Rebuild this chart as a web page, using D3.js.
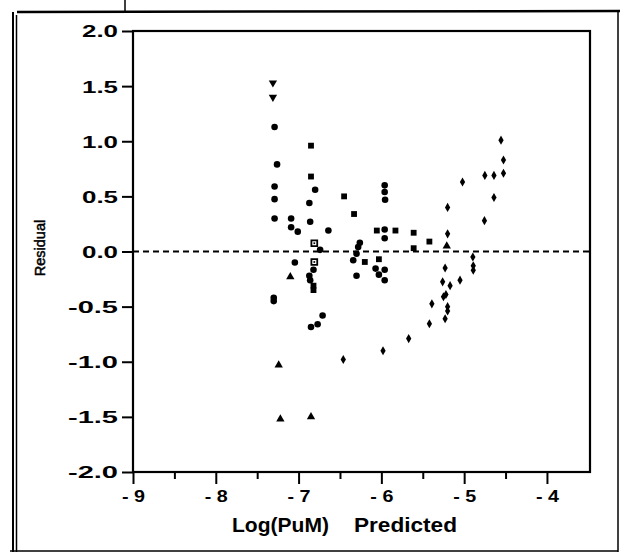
<!DOCTYPE html>
<html><head><meta charset="utf-8">
<script src="https://cdn.jsdelivr.net/npm/d3@7"></script>
<style>
html,body{margin:0;padding:0;background:#fff;}
svg{display:block;}
text{font-family:"Liberation Sans",Arial,sans-serif;fill:#000;}
</style></head>
<body>
<svg id="c" width="620" height="555"></svg>
<script>
// ---- data ----
const xTickValues = [-9, -8, -7, -6, -5, -4];
const xTickLabels = ["- 9", "- 8", "- 7", "- 6", "- 5", "- 4"];
const xMinorTicks = [-8.5, -7.5, -6.5, -5.5, -4.5];
const yTickValues = [2, 1.5, 1, 0.5, 0, -0.5, -1, -1.5, -2];
const yTickLabels = ["2.0", "1.5", "1.0", "0.5", "0.0", "-0.5", "-1.0", "-1.5", "-2.0"];
const xTitleParts = ["Log(PuM)", "Predicted"];
const yTitle = "Residual";

// [predicted, residual]
const triDownPts = [[-7.31, 1.53], [-7.31, 1.40]];
const triUpPts = [[-7.10, -0.23], [-5.21, 0.05], [-7.24, -1.03], [-7.22, -1.52], [-6.85, -1.50]];
const squarePts = [[-6.85, 0.96], [-6.85, 0.68], [-6.33, 0.34], [-6.055, 0.19], [-5.83, 0.19],
  [-5.61, 0.17], [-5.42, 0.09], [-6.82, -0.31], [-6.82, -0.35],
  [-6.20, -0.095], [-6.03, -0.07], [-6.45, 0.50], [-5.61, 0.03]];
const openSquarePts = [[-6.81, 0.075], [-6.81, -0.095]];
const circlePts = [[-7.29, 1.13], [-7.26, 0.79], [-7.29, 0.59], [-7.29, 0.475], [-7.29, 0.30],
  [-7.09, 0.30], [-7.09, 0.22], [-7.01, 0.18], [-6.87, 0.44], [-6.86, 0.27], [-6.80, 0.56],
  [-6.64, 0.19], [-5.96, 0.60], [-5.96, 0.54], [-5.955, 0.47], [-5.96, 0.20], [-5.96, 0.12],
  [-6.26, 0.08], [-6.28, 0.04], [-6.74, 0.015], [-6.30, -0.02], [-6.34, -0.08], [-7.045, -0.10],
  [-6.82, -0.165], [-6.07, -0.155], [-5.96, -0.165], [-6.87, -0.22], [-6.30, -0.22],
  [-6.03, -0.21], [-6.86, -0.26], [-5.96, -0.26], [-7.30, -0.42], [-7.30, -0.45],
  [-6.71, -0.58], [-6.77, -0.66], [-6.85, -0.685]];
const diamondPts = [[-5.20, 0.40], [-5.20, 0.16], [-4.895, -0.05], [-4.89, -0.13], [-4.89, -0.17],
  [-5.23, -0.15], [-5.26, -0.275], [-5.17, -0.31], [-5.05, -0.26], [-5.25, -0.41], [-5.22, -0.39],
  [-5.39, -0.475], [-5.20, -0.50], [-5.20, -0.54], [-5.23, -0.61], [-5.42, -0.655], [-5.67, -0.79],
  [-5.98, -0.90], [-6.46, -0.98], [-4.555, 1.01], [-4.525, 0.83], [-4.525, 0.71], [-4.75, 0.69],
  [-4.64, 0.69], [-5.02, 0.63], [-4.64, 0.49], [-4.755, 0.28]];

// ---- layout ----
const svg = d3.select("#c");
const L = 133, R = 590, T = 31, B = 472;
const x = d3.scaleLinear().domain([-9, -3.48]).range([L, R]);
const y = d3.scaleLinear().domain([-2, 2]).range([B, T]);

// outer scanned frame
const ln = (x1, y1, x2, y2, w) => svg.append("line").attr("x1", x1).attr("y1", y1).attr("x2", x2).attr("y2", y2)
  .attr("stroke", "#000").attr("stroke-width", w);
ln(13, 12, 13, 552, 2);
ln(16.5, 15, 16.5, 552, 1.5);
ln(17, 12, 620, 11, 2.5);
ln(618, 12, 618, 552, 1.5);
ln(10, 551, 618, 551, 1.5);
ln(125, 0, 125, 12, 1.5);

// plot frame
svg.append("rect").attr("x", L).attr("y", T).attr("width", R - L).attr("height", B - T)
  .attr("fill", "none").attr("stroke", "#000").attr("stroke-width", 2.2);

// axes
const fmtX = d => xTickLabels[xTickValues.indexOf(d)];
const gx = svg.append("g").attr("transform", `translate(0,${B})`)
  .call(d3.axisBottom(x).tickValues(xTickValues).tickFormat(fmtX).tickSize(12).tickPadding(8));
const gxm = svg.append("g").attr("transform", `translate(0,${B})`)
  .call(d3.axisBottom(x).tickValues(xMinorTicks).tickFormat("").tickSize(7));
const fmtY = d => yTickLabels[yTickValues.indexOf(d)];
const gy = svg.append("g").attr("transform", `translate(${L},0)`)
  .call(d3.axisLeft(y).tickValues(yTickValues).tickFormat(fmtY).tickSize(11).tickPadding(4));
[gx, gxm, gy].forEach(g => {
  g.select(".domain").remove();
  g.selectAll(".tick line").attr("stroke", "#000").attr("stroke-width", 2);
});
gx.selectAll("text").attr("font-size", 16).attr("font-weight", "bold")
  .attr("dy", "0.65em").attr("textLength", 23).attr("lengthAdjust", "spacingAndGlyphs");
gy.selectAll("text").attr("font-size", 16.5).attr("font-weight", "bold")
  .attr("dy", "0.36em")
  .attr("textLength", d => fmtY(d).startsWith("-") ? 50 : 36).attr("lengthAdjust", "spacingAndGlyphs");

// zero reference line
svg.append("line").attr("x1", x(-9)).attr("x2", x(-3.48)).attr("y1", y(0)).attr("y2", y(0))
  .attr("stroke", "#000").attr("stroke-width", 2).attr("stroke-dasharray", "6,4");

// titles
svg.append("text").attr("x", 232).attr("y", 532).attr("font-size", 20).attr("font-weight", "bold")
  .attr("textLength", 97).attr("lengthAdjust", "spacingAndGlyphs").text(xTitleParts[0]);
svg.append("text").attr("x", 354).attr("y", 532).attr("font-size", 20).attr("font-weight", "bold")
  .attr("textLength", 103).attr("lengthAdjust", "spacingAndGlyphs").text(xTitleParts[1]);
svg.append("text").attr("transform", "translate(45,248) rotate(-90)").attr("text-anchor", "middle")
  .attr("font-size", 14.5).attr("stroke", "#000").attr("stroke-width", 0.5)
  .text(yTitle);

// points
function draw(pts, type, size, rot) {
  svg.append("g").selectAll("path").data(pts).join("path")
    .attr("transform", d => `translate(${x(d[0])},${y(d[1])})` + (rot ? ` rotate(${rot})` : ""))
    .attr("d", d3.symbol().type(type).size(size))
    .attr("fill", "#000");
}
draw(circlePts, d3.symbolCircle, 34);
draw(squarePts, d3.symbolSquare, 34);
draw(diamondPts, d3.symbolDiamond, 24);
draw(triUpPts, d3.symbolTriangle, 30);
draw(triDownPts, d3.symbolTriangle, 30, 180);
const og = svg.append("g").selectAll("g").data(openSquarePts).join("g")
  .attr("transform", d => `translate(${x(d[0])},${y(d[1])})`);
og.append("path").attr("d", d3.symbol().type(d3.symbolSquare).size(34))
  .attr("fill", "#fff").attr("stroke", "#000").attr("stroke-width", 1.8);
og.append("path").attr("d", d3.symbol().type(d3.symbolSquare).size(3)).attr("fill", "#000");
</script>
</body></html>
